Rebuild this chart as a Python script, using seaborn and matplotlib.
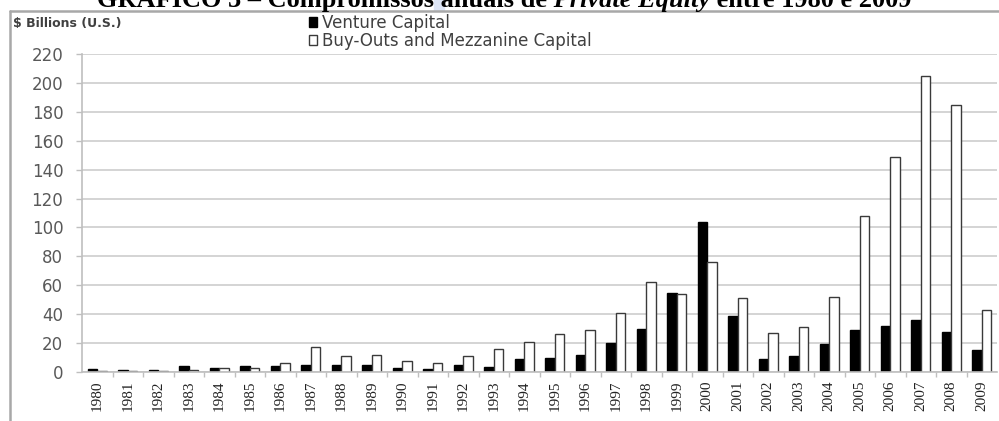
import matplotlib
matplotlib.use("Agg")
import matplotlib.pyplot as plt
from matplotlib.lines import Line2D
from matplotlib.patches import Rectangle
import seaborn as sns
import pandas as pd

years = [str(y) for y in range(1980, 2010)]
venture = [2, 1.5, 1.5, 4, 3, 4, 4, 5, 4.5, 5, 3, 2, 5, 3.5, 9, 10, 12, 20, 30, 55,
           104, 39, 9, 11, 19.5, 29, 32, 36, 28, 15]
buyouts = [0.5, 0.5, 0.5, 1.5, 3, 3, 6, 17, 11, 12, 7.5, 6, 11, 16, 20.5, 26, 29, 41, 62, 54,
           76, 51, 27, 31, 52, 108, 149, 205, 185, 43]
series_names = ["Venture Capital", "Buy-Outs and Mezzanine Capital"]
y_ticks = list(range(0, 221, 20))

df = pd.DataFrame({
    "Year": years * 2,
    "Value": venture + buyouts,
    "Series": [series_names[0]] * len(years) + [series_names[1]] * len(years),
})

sns.set_theme(style="white")
plt.rcParams["font.family"] = ["DejaVu Sans"]

W, H = 999, 421
fig = plt.figure(figsize=(W / 100, H / 100), dpi=100)
ax = fig.add_axes([82 / W, 1 - 372 / H, 915 / W, 318 / H])

sns.barplot(data=df, x="Year", y="Value", hue="Series", palette=["black", "white"],
            width=0.62, saturation=1, ax=ax, legend=True, linewidth=1.0)
edge_colors = ["black", "#3a3a3a"]
for cont, ec in zip(ax.containers, edge_colors):
    for p in cont:
        p.set_edgecolor(ec)
        p.set_linewidth(1.0)

ax.set_xlim(-0.5, len(years) - 0.5)
ax.set_ylim(0, 220)
ax.set_yticks(y_ticks)
ax.yaxis.grid(True, color="#d4d4d4", linewidth=1.4)
ax.set_axisbelow(True)
ax.set_xlabel("")
ax.set_ylabel("")
for s in ["top", "right"]:
    ax.spines[s].set_visible(False)
for s in ["left", "bottom"]:
    ax.spines[s].set_color("#bfbfbf")
    ax.spines[s].set_linewidth(1.2)

ax.tick_params(axis="y", left=True, length=4.5, width=1.0, color="#bfbfbf", pad=9,
               labelsize=12, labelcolor="#595959")
ax.tick_params(axis="x", bottom=True, length=0, pad=6, labelsize=11, labelcolor="#222222")
ax.set_xticks(range(len(years)))
ax.set_xticklabels(years, rotation=90, family="Liberation Serif")
ax.set_xticks([i + 0.5 for i in range(len(years) - 1)], minor=True)
ax.tick_params(axis="x", which="minor", bottom=True, length=3.5, width=1.0, color="#bfbfbf")

# legend
handles, labels = ax.get_legend_handles_labels()
leg = ax.legend(handles, labels, loc="upper left", bbox_to_anchor=(309 / W, 1 - 14 / H),
                bbox_transform=fig.transFigure, frameon=False, fontsize=12,
                handlelength=0.5, handleheight=0.5, handletextpad=0.3,
                labelspacing=0.0, borderpad=0, borderaxespad=0, labelcolor="#404040")
for h, ec in zip(leg.legend_handles, edge_colors):
    h.set_edgecolor(ec)
    h.set_linewidth(1.0)

fig.text(13 / W, 1 - 23 / H, "$ Billions (U.S.)", fontsize=9, fontweight="bold",
         color="#404040", va="center", ha="left")

# frame
fig.add_artist(Line2D([10 / W, 10 / W], [0, 1 - 11 / H], transform=fig.transFigure,
                      color="#a8a8a8", linewidth=1.8))
fig.add_artist(Line2D([10 / W, 1], [1 - 11 / H, 1 - 11 / H], transform=fig.transFigure,
                      color="#a8a8a8", linewidth=1.8))

# title (top cut off)
renderer = fig.canvas.get_renderer()
pieces = [("GRÁFICO 3 – Compromissos", "normal"), (" anuais de", "normal"),
          (" Private Equity", "italic"), (" entre 1980 e 2009", "normal")]
fs = 19
base_y = 1 - 7 / H
texts = []
widths = []
for s, st in pieces:
    t = fig.text(0, base_y, s.replace(" ", "\u00a0"), fontsize=fs, fontweight="bold",
                 style=st, family="Liberation Serif", va="baseline", ha="left", color="black")
    texts.append(t)
    widths.append(t.get_window_extent(renderer).width)
total = sum(widths)
x = 504 - total / 2
for i, (t, w) in enumerate(zip(texts, widths)):
    t.set_x(x / W)
    if i == 1:
        fig.add_artist(Rectangle((x / W, 1 - 10 / H), 10 / W, 10 / H,
                                 transform=fig.transFigure, color="#dde5f6", zorder=0))
    x += w

fig.savefig("out.png", dpi=100, facecolor="white")
